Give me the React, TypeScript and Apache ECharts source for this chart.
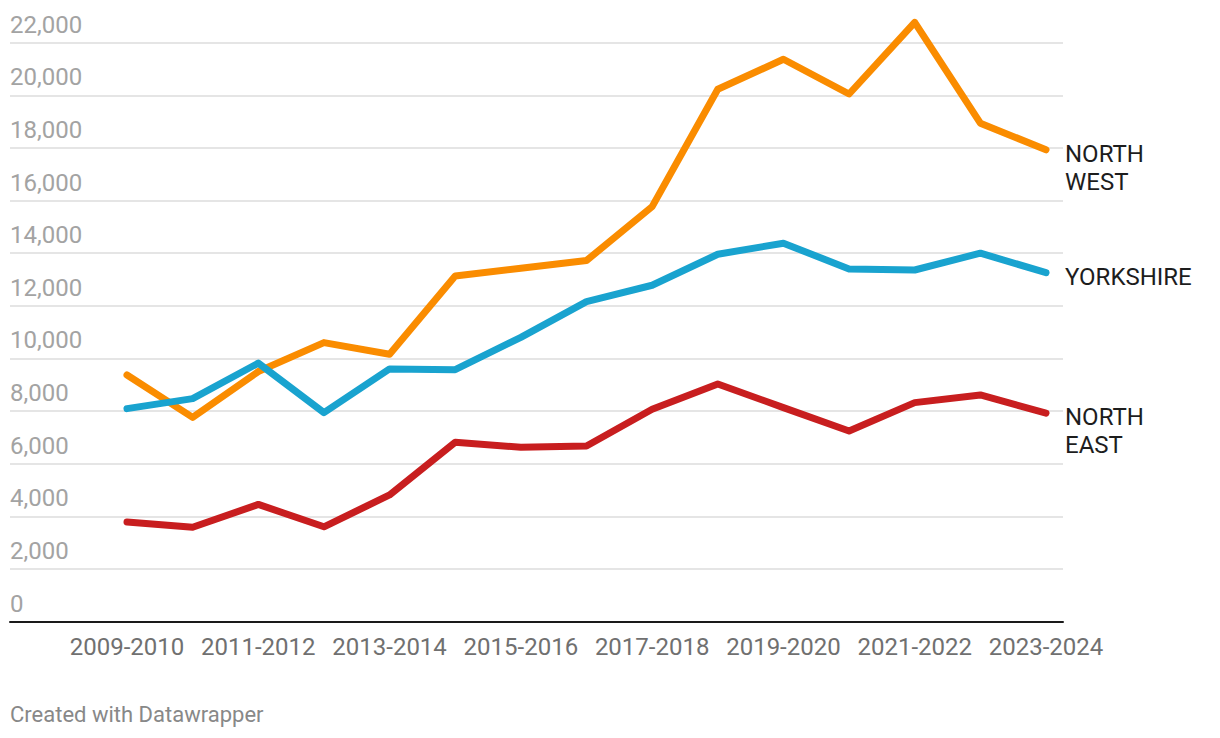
import React, { useEffect, useRef } from "react";
import * as echarts from "echarts";

const categories = [
  "2009-2010", "2010-2011", "2011-2012", "2012-2013", "2013-2014",
  "2014-2015", "2015-2016", "2016-2017", "2017-2018", "2018-2019",
  "2019-2020", "2020-2021", "2021-2022", "2022-2023", "2023-2024",
];

const northWest = [9370, 7760, 9500, 10600, 10160, 13130, 13430, 13720, 15770, 20230, 21370, 20050, 22770, 18940, 17930];
const yorkshire = [8090, 8470, 9820, 7940, 9600, 9570, 10800, 12160, 12780, 13960, 14380, 13400, 13360, 14000, 13260];
const northEast = [3780, 3580, 4450, 3600, 4810, 6810, 6620, 6670, 8070, 9030, 8130, 7240, 8320, 8610, 7920];

const seriesNames = ["NORTH\nEAST", "NORTH\nWEST", "YORKSHIRE"];
const seriesColors = ["#c81e1f", "#fa8c00", "#19a3cf"];

const yMin = 0;
const yMax = 22000;
const yStep = 2000;

const footer = "Created with Datawrapper";
const FONT = "Roboto, 'Noto Sans', sans-serif";

export default function App() {
  const ref = useRef<HTMLDivElement>(null);

  useEffect(() => {
    if (!ref.current) return;
    const chart = echarts.init(ref.current, undefined, { renderer: "svg" });
    const data = [northEast, northWest, yorkshire];

    const option: any = {
      animation: false,
      backgroundColor: "#ffffff",
      textStyle: { fontFamily: FONT },
      title: {
        text: footer,
        left: 10,
        top: 703,
        padding: 0,
        textStyle: { fontFamily: FONT, fontSize: 22, fontWeight: "normal", color: "#888888", lineHeight: 22 },
      },
      grid: [
        { left: 10, right: 157, top: 42.7, bottom: 116.5 },
        { left: 127, right: 174, top: 42.7, bottom: 116.5 },
      ],
      xAxis: [
        {
          gridIndex: 0,
          type: "value",
          min: 0,
          max: 1,
          axisLine: { show: true, lineStyle: { color: "#1a1a1a", width: 2 } },
          axisTick: { show: false },
          axisLabel: { show: false },
          splitLine: { show: false },
        },
        {
          gridIndex: 1,
          type: "category",
          data: categories,
          boundaryGap: false,
          axisLine: { show: false },
          axisTick: { show: false },
          splitLine: { show: false },
          axisLabel: {
            interval: 1,
            margin: 13,
            fontFamily: FONT,
            fontSize: 24,
            lineHeight: 24,
            color: "#707070",
          },
        },
      ],
      yAxis: [
        {
          gridIndex: 0,
          type: "value",
          min: yMin,
          max: yMax,
          interval: yStep,
          axisLine: { show: false },
          axisTick: { show: false },
          splitLine: { show: true, lineStyle: { color: "#e5e5e5", width: 2 } },
          axisLabel: {
            inside: true,
            margin: 0,
            align: "left",
            verticalAlign: "bottom",
            padding: [0, 0, 6, 0],
            fontFamily: FONT,
            fontSize: 24,
            lineHeight: 24,
            color: "#a3a3a3",
            formatter: (v: number) => v.toLocaleString("en-US"),
          },
        },
        {
          gridIndex: 1,
          type: "value",
          min: yMin,
          max: yMax,
          show: false,
        },
      ],
      series: data.map((d, i) => ({
        type: "line",
        name: seriesNames[i],
        xAxisIndex: 1,
        yAxisIndex: 1,
        data: d,
        clip: false,
        showSymbol: false,
        symbol: "none",
        color: seriesColors[i],
        lineStyle: { width: 7, color: seriesColors[i], cap: "round", join: "round" },
        endLabel: {
          show: true,
          formatter: () => seriesNames[i],
          distance: 19,
          align: "left",
          verticalAlign: "top",
          offset: [0, -10],
          fontFamily: FONT,
          fontSize: 24,
          lineHeight: 28,
          color: "#1d1d1d",
        },
        emphasis: { disabled: true },
      })),
    };

    chart.setOption(option);
    return () => chart.dispose();
  }, []);

  return (
    <div
      ref={ref}
      style={{ position: "fixed", left: 0, top: 0, width: 1220, height: 738 }}
    />
  );
}
